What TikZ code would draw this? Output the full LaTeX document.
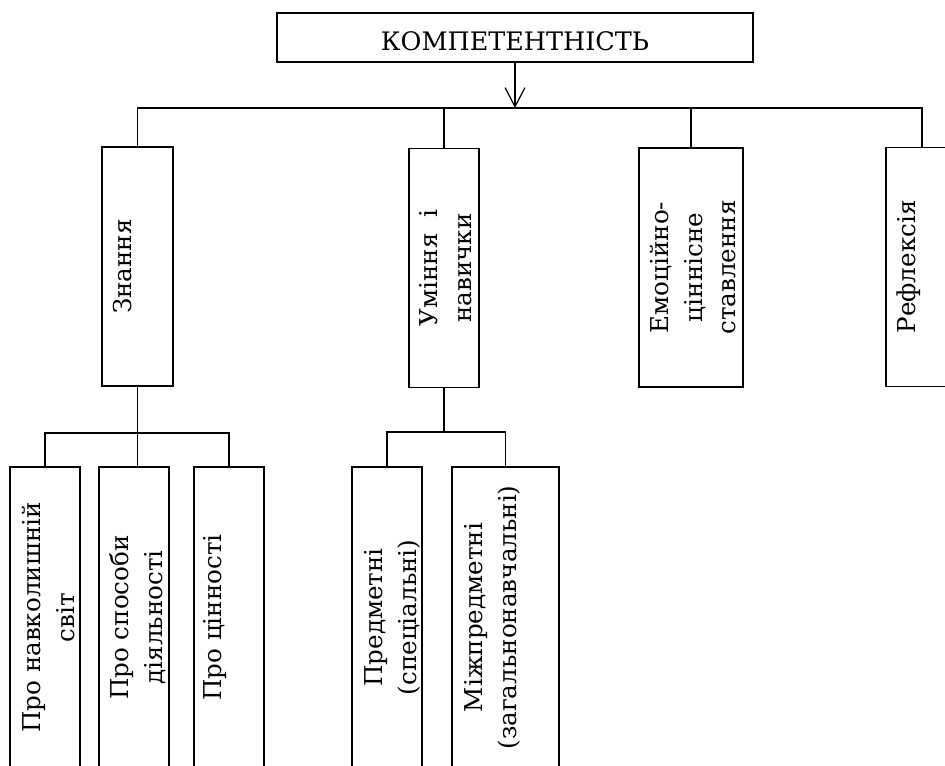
\documentclass[tikz,border=0pt]{standalone}
\usepackage{fontspec}
\setmainfont{DejaVu Serif}
\usetikzlibrary{arrows.meta}

\begin{document}
\begin{tikzpicture}
[%%%%%%%%%%%%%%%%%%%%%%%%%%%%%%
x=0.02cm,y=-0.02cm,
box/.style={rectangle,draw=black,line width=0.7pt,inner sep=0pt},
upper/.style={box,minimum height=4.78cm},
lower/.style={box,minimum height=6.02cm},
txt/.style={rotate=90,anchor=north,align=center,inner sep=0pt,font=\rmfamily\fontsize{14pt}{19.3pt}\selectfont},
link/.style={line width=0.7pt},
]%%%%%%%%%%%%%%%%%%%%%%%%%%%%%%
\useasboundingbox (0,0) rectangle (945,766);
\clip (0,0) rectangle (945,766);

\node[box,minimum width=9.52cm,minimum height=0.98cm,text height=15pt,text depth=0pt,
  font=\rmfamily\fontsize{14.5pt}{19.3pt}\selectfont] (comp) at (515,37.5) {КОМПЕТЕНТНІСТЬ};

% upper level
\node[upper,minimum width=1.42cm] (know) at (137.5,266.5) {};
\node[upper,minimum width=1.40cm] (skill) at (444,268) {};
\node[upper,minimum width=2.08cm] (emo) at (691,267.5) {};
\node[upper,minimum width=1.44cm] (refl) at (922,267) {};

\node[txt] (know-t) at ([xshift=0.22cm]know.west) {Знання};
\node[txt] (skill-t) at ([xshift=0.22cm]skill.west) {Уміння~~і\\навички};
\node[txt] (emo-t) at ([xshift=0.22cm]emo.west) {Емоційно-\\ціннісне\\ставлення};
\node[txt] (refl-t) at ([xshift=0.22cm]refl.west) {Рефлексія};

% lower level
\node[lower,minimum width=1.40cm] (k1) at (45,617.5) {};
\node[lower,minimum width=1.40cm] (k2) at (134,617.5) {};
\node[lower,minimum width=1.40cm] (k3) at (229,617.5) {};
\node[lower,minimum width=1.40cm] (s1) at (387,617.5) {};
\node[lower,minimum width=2.14cm] (s2) at (505.5,617.5) {};

\node[txt] (k1-t) at ([xshift=0.24cm]k1.west) {Про навколишній\\світ};
\node[txt] (k2-t) at ([xshift=0.22cm]k2.west) {Про способи\\діяльності};
\node[txt] (k3-t) at ([xshift=0.20cm]k3.west) {Про цінності};
\node[txt] (s1-t) at ([xshift=0.26cm]s1.west) {Предметні\\(спеціальні)};
\node[txt] (s2-t) at ([xshift=0.26cm]s2.west) {Міжпредметні\\(загальнонавчальні)};

% connectors
\coordinate (bus) at (514,108);
\draw[link,-{Straight Barb[length=10.8pt,width=11.3pt]}] (comp.south) -- (comp.south |- bus);
\draw[link] (know.north) |- (bus) -| (refl.north);
\foreach \n in {skill,emo}
  \draw[link] (\n.north) -- (\n.north |- bus);

\coordinate (kbus) at (137,433);
\draw[link] (know.south) -- (know.south |- k2.north);
\draw[link] (k1.north) |- (kbus) -| (k3.north);

\coordinate (sbus) at (444,432);
\draw[link] (skill.south) -- (sbus);
\draw[link] (s1.north) |- (sbus) -| (s2.north);
\end{tikzpicture}
\end{document}
